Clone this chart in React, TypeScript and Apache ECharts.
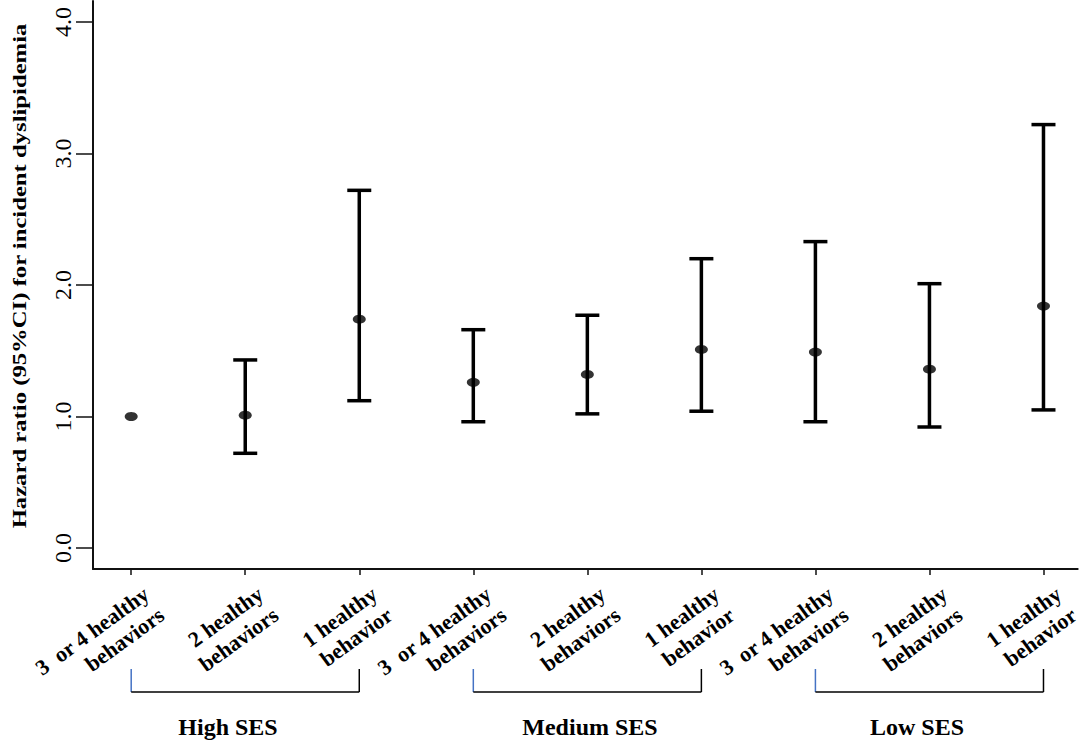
import React, { useEffect, useRef } from "react";
import * as echarts from "echarts";

// ---- data ----
const categories = [
  "3  or 4 healthy\nbehaviors",
  "2 healthy\nbehaviors",
  "1 healthy\nbehavior",
  "3  or 4 healthy\nbehaviors",
  "2 healthy\nbehaviors",
  "1 healthy\nbehavior",
  "3  or 4 healthy\nbehaviors",
  "2 healthy\nbehaviors",
  "1 healthy\nbehavior",
];
const positions = [1, 2, 3, 4, 5, 6, 7, 8, 9];
const hazardRatio = [1.0, 1.01, 1.74, 1.26, 1.32, 1.51, 1.49, 1.36, 1.84];
const lowerCI = [1.0, 0.72, 1.12, 0.96, 1.02, 1.04, 0.96, 0.92, 1.05];
const upperCI = [1.0, 1.43, 2.72, 1.66, 1.77, 2.2, 2.33, 2.01, 3.22];
const yTicks = [0, 1, 2, 3, 4];
const groupNames = ["High SES", "Medium SES", "Low SES"];
const groupStart = [1, 4, 7];
const groupEnd = [3, 6, 9];

const SERIF = "'Liberation Serif', 'Times New Roman', serif";

export default function App() {
  const ref = useRef<HTMLDivElement>(null);

  useEffect(() => {
    if (!ref.current) return;
    const chart = echarts.init(ref.current, null, { renderer: "svg" });

    const errData = positions.map((p, i) => [p, lowerCI[i], upperCI[i]]);
    const ptData = positions.map((p, i) => [p, hazardRatio[i]]);
    const bracketData = groupStart.map((s, i) => [s, groupEnd[i], 0]);

    const option: any = {
      animation: false,
      backgroundColor: "#fff",
      grid: { left: 93, right: 3, top: 1, bottom: 173, containLabel: false },
      xAxis: {
        type: "value",
        min: 0.665,
        max: 9.3,
        splitLine: { show: false },
        axisLine: { show: true, onZero: false, lineStyle: { color: "#111", width: 2 } },
        axisTick: {
          show: true,
          customValues: positions,
          length: 6,
          lineStyle: { color: "#111", width: 1.5 },
        },
        axisLabel: {
          show: true,
          customValues: positions.map((p) => p + 0.2),
          formatter: (v: number) => categories[Math.round(v) - 1] ?? "",
          rotate: 36,
          margin: 33,
          fontSize: 22,
          lineHeight: 26,
          fontWeight: "bold",
          fontFamily: SERIF,
          color: "#000",
        },
      },
      yAxis: {
        type: "value",
        min: -0.16,
        max: 4.16,
        splitLine: { show: false },
        axisLine: { show: true, onZero: false, lineStyle: { color: "#111", width: 2 } },
        axisTick: {
          show: true,
          customValues: yTicks,
          length: 17,
          lineStyle: { color: "#111", width: 1.5 },
        },
        axisLabel: {
          show: true,
          customValues: yTicks,
          formatter: (v: number) => v.toFixed(1),
          rotate: 90,
          margin: 18,
          fontSize: 24,
          fontFamily: SERIF,
          color: "#000",
        },
      },
      graphic: [
        {
          type: "text",
          x: 20,
          y: 276,
          rotation: Math.PI / 2,
          scaleX: 1.3,
          style: {
            text: "Hazard ratio (95%CI) for incident dyslipidemia",
            font: "bold 19px " + SERIF,
            fill: "#000",
            align: "center",
            verticalAlign: "middle",
          },
        },
        ...groupNames.map((name, i) => ({
          type: "text",
          x: [228, 590, 917][i],
          y: 727,
          style: {
            text: name,
            font: "bold 24px " + SERIF,
            fill: "#000",
            align: "center",
            verticalAlign: "middle",
          },
        })),
      ],
      series: [
        {
          type: "custom",
          name: "ci",
          data: errData,
          encode: { x: 0, y: [1, 2] },
          renderItem: (params: any, api: any) => {
            const x = api.value(0);
            const lo = api.value(1);
            const hi = api.value(2);
            if (lo === hi) return { type: "group", children: [] };
            const pTop = api.coord([x, hi]);
            const pBot = api.coord([x, lo]);
            const half = 12;
            const style = { stroke: "#000", lineWidth: 3.5 };
            return {
              type: "group",
              children: [
                { type: "line", shape: { x1: pTop[0], y1: pTop[1], x2: pBot[0], y2: pBot[1] }, style },
                { type: "line", shape: { x1: pTop[0] - half, y1: pTop[1], x2: pTop[0] + half, y2: pTop[1] }, style },
                { type: "line", shape: { x1: pBot[0] - half, y1: pBot[1], x2: pBot[0] + half, y2: pBot[1] }, style },
              ],
            };
          },
          z: 2,
        },
        {
          type: "scatter",
          name: "hr",
          data: ptData,
          symbol: "circle",
          symbolSize: [13, 9],
          itemStyle: { color: "#000" },
          z: 3,
        },
        {
          type: "custom",
          name: "brackets",
          data: bracketData,
          encode: { x: [0, 1], y: 2 },
          clip: false,
          renderItem: (params: any, api: any) => {
            const x1 = api.coord([api.value(0), 0])[0];
            const x2 = api.coord([api.value(1), 0])[0];
            const base = params.coordSys.y + params.coordSys.height;
            const yT = base + 100;
            const yB = base + 123;
            return {
              type: "group",
              children: [
                { type: "line", shape: { x1: x1, y1: yT, x2: x1, y2: yB }, style: { stroke: "#4472C4", lineWidth: 1.5 } },
                { type: "line", shape: { x1: x1, y1: yB, x2: x2, y2: yB }, style: { stroke: "#000", lineWidth: 1.5 } },
                { type: "line", shape: { x1: x2, y1: yT, x2: x2, y2: yB }, style: { stroke: "#000", lineWidth: 1.5 } },
              ],
            };
          },
          z: 1,
        },
      ],
    };

    chart.setOption(option);
    return () => chart.dispose();
  }, []);

  return (
    <div
      ref={ref}
      style={{ position: "fixed", left: 0, top: 0, width: 1084, height: 742, background: "#fff" }}
    />
  );
}
